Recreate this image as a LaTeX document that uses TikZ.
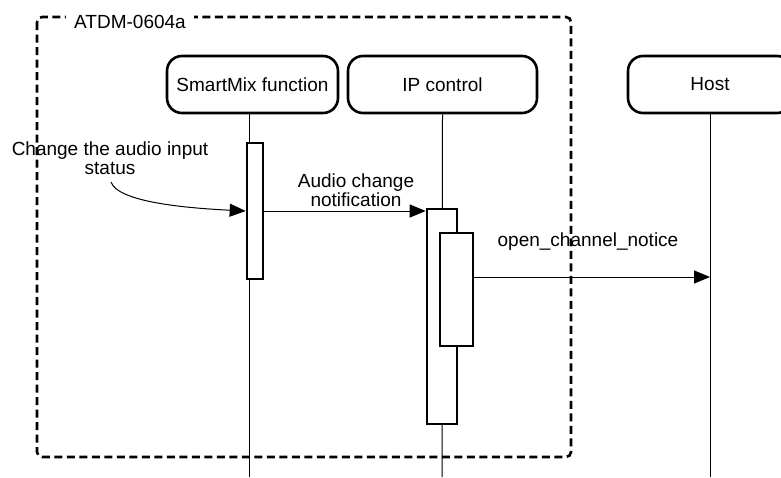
\documentclass[tikz,border=0pt]{standalone}
\usepackage{fontspec}
\setmainfont{Liberation Sans}
\usetikzlibrary{arrows.meta}
\begin{document}
\begin{tikzpicture}[x=1pt,y=-1pt,
  every node/.style={font=\fontsize{19}{19}\selectfont, inner sep=0pt},
  actor/.style={draw, line width=2.6pt, rounded corners=15pt, minimum height=57pt},
  actbar/.style={draw, line width=2.6pt, fill=white},
  life/.style={line width=1pt},
  msg/.style={line width=1pt, -{Triangle[length=16pt,width=13pt]}},
  frame/.style={line width=2.6pt, dash pattern=on 8pt off 4.5pt, rounded corners=5pt},
  lbl/.style={align=center}]
\clip (0,0) rectangle (781,477);
\fill[white] (0,0) rectangle (781,477);
% frame
\draw[frame] (37,17) rectangle (571,457);
\node[fill=white, inner xsep=8pt, inner ysep=3pt] (title) at (130,22) {ATDM-0604a};
% actors
\node[actor, minimum width=171pt] (smart) at (252.5,84.5) {SmartMix function};
\node[actor, minimum width=189pt] (ipc) at (442.5,84.5) {IP control};
\node[actor, minimum width=164pt] (host) at (710,84.5) {Host};
% lifeline ends
\coordinate (ls) at (249,477);
\coordinate (li) at (442,477);
\coordinate (lh) at (710,477);
\draw[life] (smart.south -| ls) -- (ls);
\draw[life] (ipc.south) -- (li);
\draw[life] (host.south) -- (lh);
% activation bars
\node[actbar, minimum width=16pt, minimum height=136pt] (a1) at (255,211) {};
\node[actbar, minimum width=30pt, minimum height=215pt] (a2) at (442,316.5) {};
\node[actbar, minimum width=33pt, minimum height=113pt] (a3) at (456.5,289.5) {};
% labels
\node[lbl] (chg) at (110,158) {Change the audio input\\status};
\node[lbl] (acn) at (356,190) {Audio change\\notification};
\node (ocn) at (588,242) {open\_channel\_notice};
% messages
\coordinate (cs) at (111,182);
\draw[msg] (cs) .. controls (118,202) and (185,208) .. (a1.west);
\draw[msg] (a1.east) -- (a1.east -| a2.west);
\draw[msg] (a3.east |- 0,277) -- (lh |- 0,277);
\end{tikzpicture}
\end{document}
